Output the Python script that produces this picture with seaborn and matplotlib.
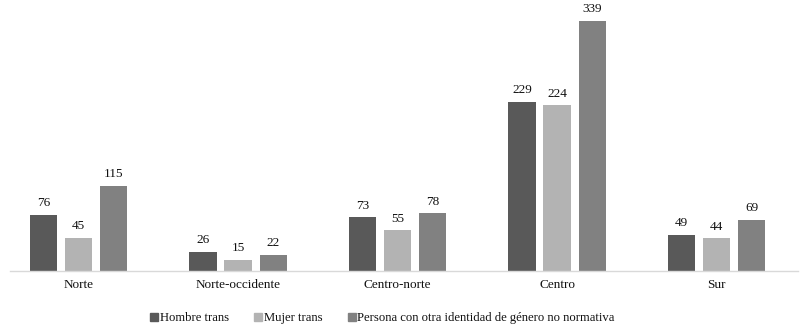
import matplotlib
matplotlib.use("Agg")
import matplotlib.pyplot as plt
from matplotlib.lines import Line2D
import seaborn as sns
import pandas as pd

regions = ["Norte", "Norte-occidente", "Centro-norte", "Centro", "Sur"]
series = ["Hombre trans", "Mujer trans", "Persona con otra identidad de género no normativa"]
hombre = [76, 26, 73, 229, 49]
mujer = [45, 15, 55, 224, 44]
otra = [115, 22, 78, 339, 69]
colors = ["#595959", "#b3b3b3", "#818181"]

rows = []
for vals, s in zip([hombre, mujer, otra], series):
    for r, v in zip(regions, vals):
        rows.append({"region": r, "serie": s, "valor": v})
df = pd.DataFrame(rows)

sns.set_style("white")
plt.rcParams["font.family"] = ["Liberation Serif", "DejaVu Serif"]

fig = plt.figure(figsize=(8.08, 3.28), dpi=100)
ax = fig.add_axes([10/808, 1 - 271/328, 788/808, 266/328])
sns.barplot(data=df, x="region", y="valor", hue="serie", order=regions,
            hue_order=series, palette=colors, width=0.66, gap=0.22,
            ax=ax, legend=False, saturation=1, edgecolor="none")
for c in ax.containers:
    ax.bar_label(c, fmt="%d", padding=4, fontsize=9.5, color="#111111")

ax.set_xlim(-0.43, 4.51)
ax.set_ylim(0, 360)
ax.set_xlabel("")
ax.set_ylabel("")
ax.set_yticks([])
for s in ["top", "right", "left"]:
    ax.spines[s].set_visible(False)
ax.spines["bottom"].set_color("#d9d9d9")
ax.spines["bottom"].set_linewidth(1)
ax.tick_params(axis="x", length=0, pad=6, labelsize=9.5, colors="#111111")

handles = [Line2D([], [], marker="s", linestyle="none", markersize=5.5,
                  color=c) for c in colors]
fig.legend(handles, series, loc="center", bbox_to_anchor=(382/808, 1 - 318/328),
           ncol=3, frameon=False, fontsize=9.1, handletextpad=0.05,
           columnspacing=1.9, handlelength=0.8, labelcolor="#111111")

fig.savefig("out.png", dpi=100)
